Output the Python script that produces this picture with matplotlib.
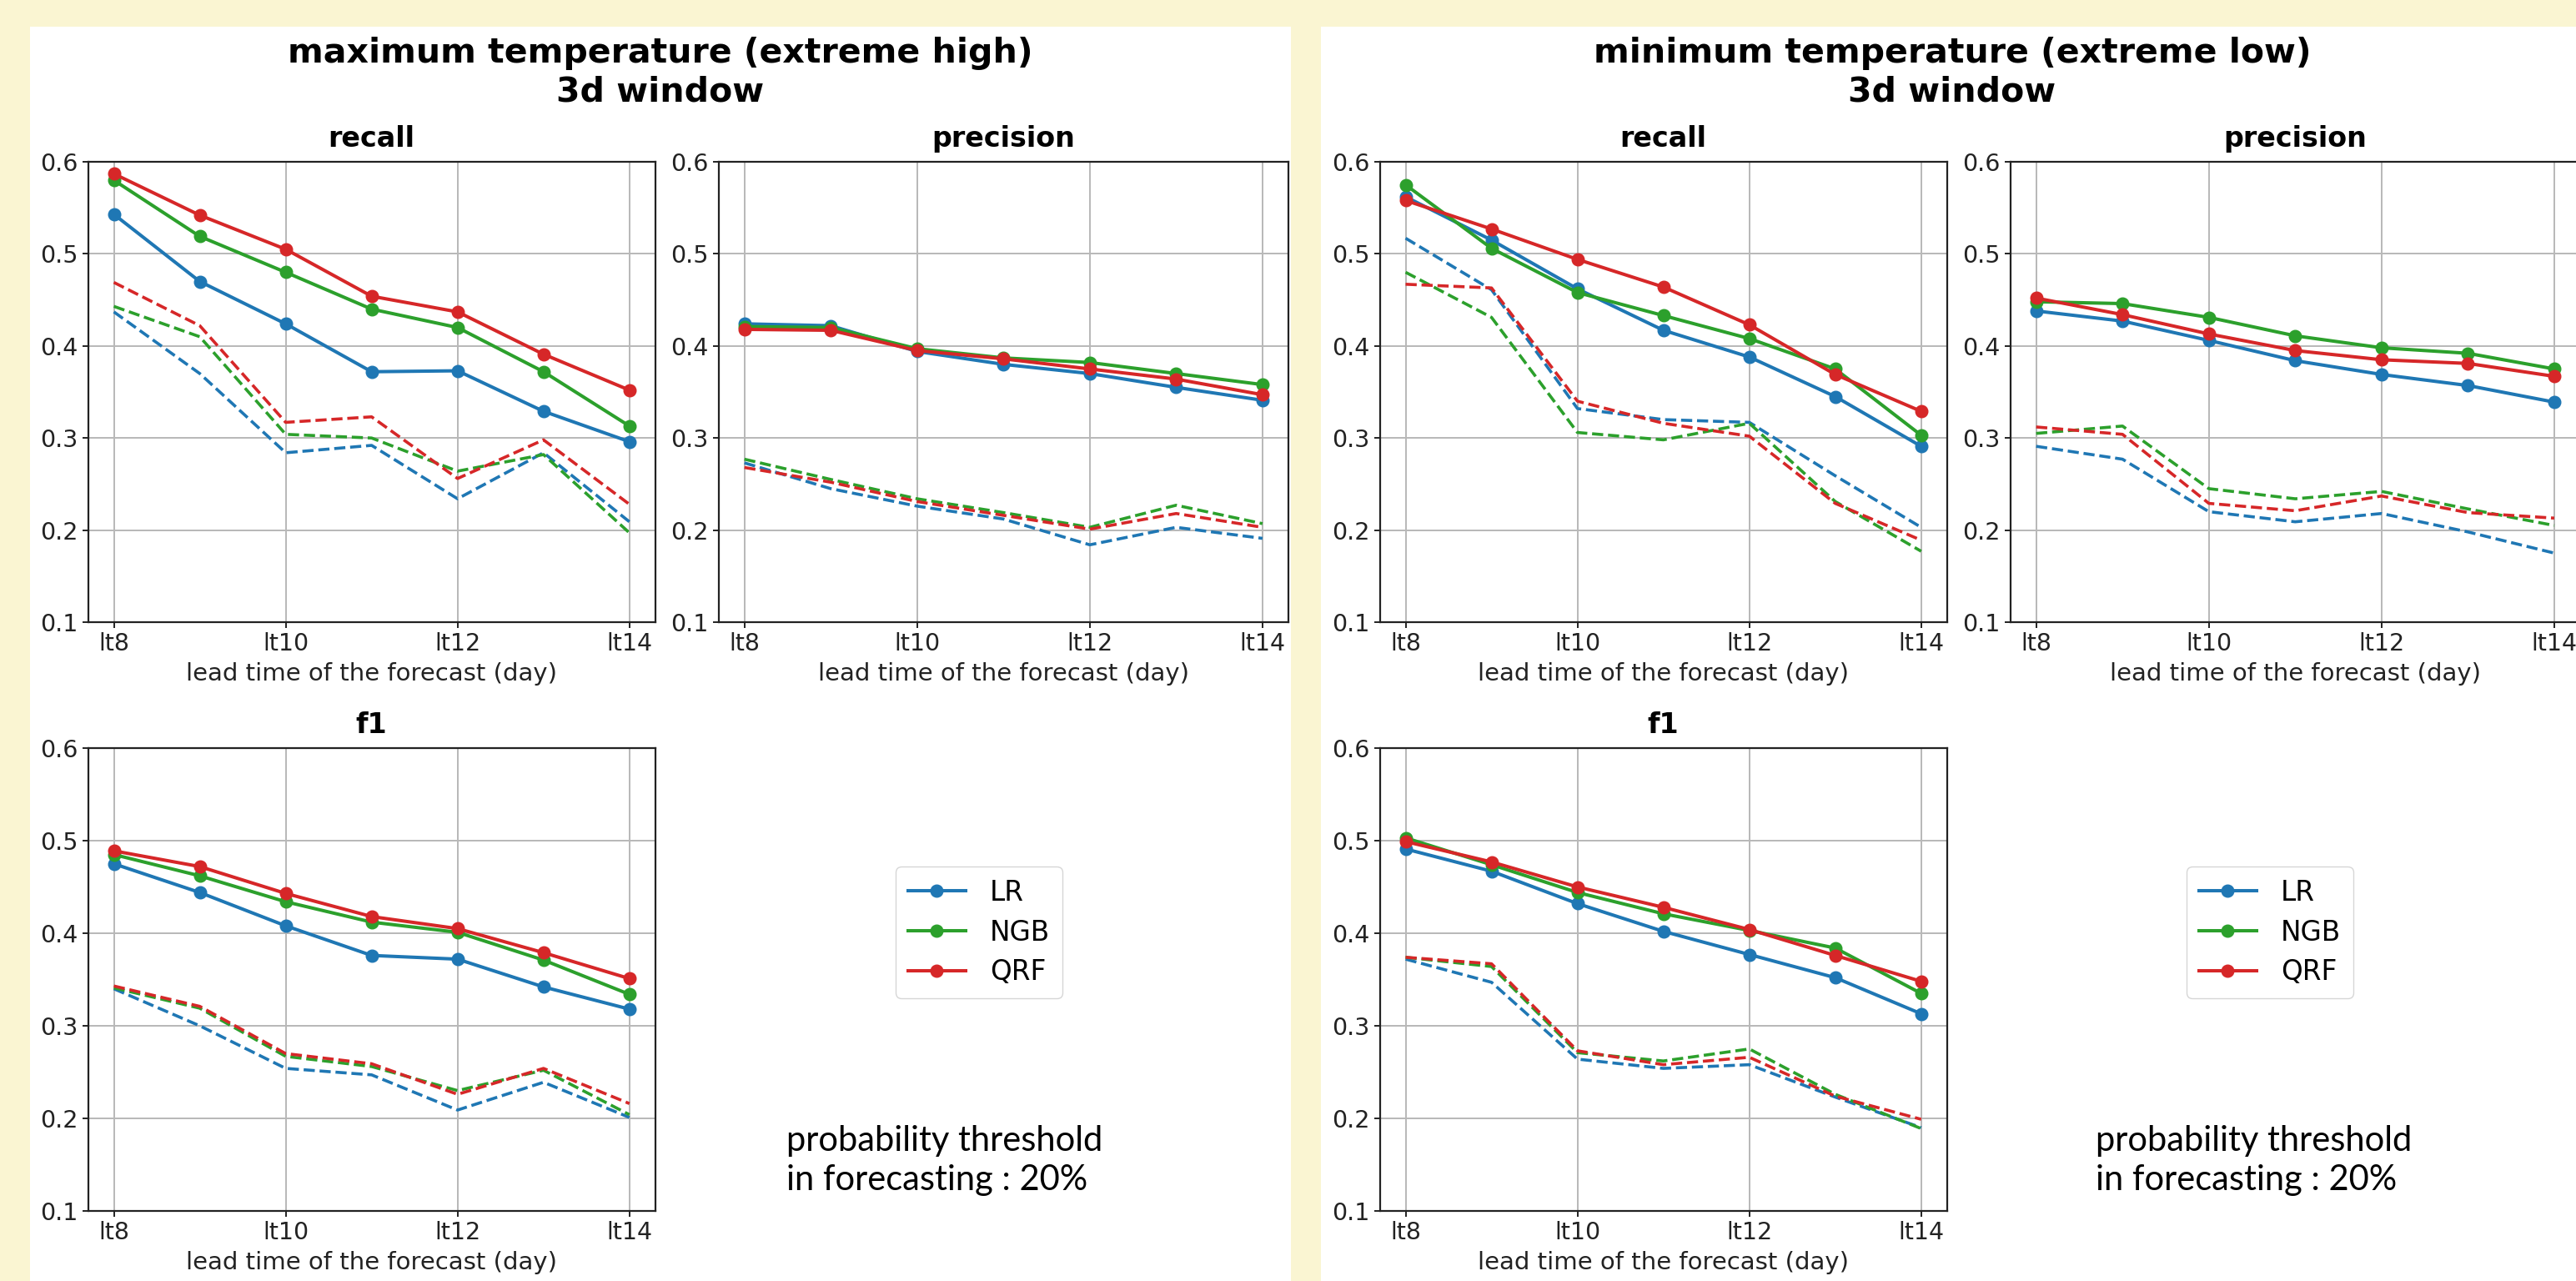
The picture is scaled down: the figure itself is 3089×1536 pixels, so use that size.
import matplotlib
matplotlib.use("Agg")
import matplotlib.pyplot as plt
from matplotlib.patches import Rectangle

# ---------------- data ----------------
lead_days = [8, 9, 10, 11, 12, 13, 14]
tick_days = [8, 10, 12, 14]
tick_labels = ["lt8", "lt10", "lt12", "lt14"]
models = ["LR", "NGB", "QRF"]
model_colors = ["#1f77b4", "#2ca02c", "#d62728"]
metrics = ["recall", "precision", "f1"]

# maximum temperature (extreme high) -- solid lines
tmax_recall_LR = [0.543, 0.470, 0.424, 0.372, 0.373, 0.329, 0.296]
tmax_recall_NGB = [0.580, 0.519, 0.480, 0.440, 0.420, 0.372, 0.313]
tmax_recall_QRF = [0.587, 0.542, 0.505, 0.454, 0.437, 0.391, 0.352]
tmax_precision_LR = [0.424, 0.422, 0.394, 0.380, 0.370, 0.355, 0.341]
tmax_precision_NGB = [0.421, 0.420, 0.397, 0.387, 0.382, 0.370, 0.358]
tmax_precision_QRF = [0.418, 0.417, 0.395, 0.386, 0.375, 0.364, 0.347]
tmax_f1_LR = [0.475, 0.444, 0.408, 0.376, 0.372, 0.342, 0.318]
tmax_f1_NGB = [0.485, 0.462, 0.434, 0.412, 0.401, 0.371, 0.334]
tmax_f1_QRF = [0.489, 0.472, 0.443, 0.418, 0.405, 0.379, 0.351]
# maximum temperature (extreme high) -- dashed lines
tmax_recall_LR_dash = [0.437, 0.370, 0.284, 0.292, 0.234, 0.284, 0.209]
tmax_recall_NGB_dash = [0.443, 0.410, 0.304, 0.300, 0.264, 0.282, 0.197]
tmax_recall_QRF_dash = [0.469, 0.422, 0.317, 0.323, 0.256, 0.298, 0.228]
tmax_precision_LR_dash = [0.273, 0.245, 0.226, 0.212, 0.184, 0.203, 0.191]
tmax_precision_NGB_dash = [0.277, 0.255, 0.234, 0.219, 0.203, 0.227, 0.207]
tmax_precision_QRF_dash = [0.268, 0.252, 0.231, 0.216, 0.201, 0.218, 0.203]
tmax_f1_LR_dash = [0.340, 0.300, 0.254, 0.247, 0.209, 0.239, 0.201]
tmax_f1_NGB_dash = [0.341, 0.319, 0.267, 0.256, 0.230, 0.252, 0.204]
tmax_f1_QRF_dash = [0.343, 0.321, 0.270, 0.259, 0.226, 0.254, 0.216]

# minimum temperature (extreme low) -- solid lines
tmin_recall_LR = [0.562, 0.515, 0.462, 0.417, 0.388, 0.345, 0.291]
tmin_recall_NGB = [0.575, 0.506, 0.458, 0.433, 0.408, 0.375, 0.303]
tmin_recall_QRF = [0.558, 0.527, 0.494, 0.464, 0.423, 0.369, 0.329]
tmin_precision_LR = [0.438, 0.427, 0.406, 0.384, 0.369, 0.357, 0.339]
tmin_precision_NGB = [0.448, 0.446, 0.431, 0.411, 0.398, 0.392, 0.375]
tmin_precision_QRF = [0.452, 0.434, 0.413, 0.395, 0.385, 0.381, 0.367]
tmin_f1_LR = [0.491, 0.467, 0.432, 0.402, 0.377, 0.352, 0.313]
tmin_f1_NGB = [0.503, 0.474, 0.444, 0.421, 0.403, 0.384, 0.335]
tmin_f1_QRF = [0.499, 0.477, 0.450, 0.428, 0.404, 0.376, 0.348]
# minimum temperature (extreme low) -- dashed lines
tmin_recall_LR_dash = [0.517, 0.461, 0.332, 0.320, 0.317, 0.259, 0.203]
tmin_recall_NGB_dash = [0.480, 0.431, 0.306, 0.298, 0.316, 0.231, 0.177]
tmin_recall_QRF_dash = [0.467, 0.463, 0.340, 0.316, 0.302, 0.229, 0.189]
tmin_precision_LR_dash = [0.291, 0.277, 0.220, 0.209, 0.218, 0.198, 0.175]
tmin_precision_NGB_dash = [0.305, 0.313, 0.245, 0.234, 0.242, 0.223, 0.205]
tmin_precision_QRF_dash = [0.312, 0.304, 0.229, 0.221, 0.237, 0.219, 0.213]
tmin_f1_LR_dash = [0.372, 0.347, 0.264, 0.254, 0.258, 0.223, 0.190]
tmin_f1_NGB_dash = [0.374, 0.364, 0.271, 0.262, 0.275, 0.226, 0.189]
tmin_f1_QRF_dash = [0.374, 0.367, 0.273, 0.258, 0.266, 0.224, 0.199]

panel_titles = ["maximum temperature (extreme high)\n3d window",
                "minimum temperature (extreme low)\n3d window"]
note_text = "probability threshold\nin forecasting : 20%"

tmax_solid = {
    "recall": [tmax_recall_LR, tmax_recall_NGB, tmax_recall_QRF],
    "precision": [tmax_precision_LR, tmax_precision_NGB, tmax_precision_QRF],
    "f1": [tmax_f1_LR, tmax_f1_NGB, tmax_f1_QRF],
}
tmax_dash = {
    "recall": [tmax_recall_LR_dash, tmax_recall_NGB_dash, tmax_recall_QRF_dash],
    "precision": [tmax_precision_LR_dash, tmax_precision_NGB_dash, tmax_precision_QRF_dash],
    "f1": [tmax_f1_LR_dash, tmax_f1_NGB_dash, tmax_f1_QRF_dash],
}
tmin_solid = {
    "recall": [tmin_recall_LR, tmin_recall_NGB, tmin_recall_QRF],
    "precision": [tmin_precision_LR, tmin_precision_NGB, tmin_precision_QRF],
    "f1": [tmin_f1_LR, tmin_f1_NGB, tmin_f1_QRF],
}
tmin_dash = {
    "recall": [tmin_recall_LR_dash, tmin_recall_NGB_dash, tmin_recall_QRF_dash],
    "precision": [tmin_precision_LR_dash, tmin_precision_NGB_dash, tmin_precision_QRF_dash],
    "f1": [tmin_f1_LR_dash, tmin_f1_NGB_dash, tmin_f1_QRF_dash],
}

# ---------------- layout (pixels, top-left origin) ----------------
W, H = 3089, 1536
BG = "#faf5d2"

plt.rcParams["font.family"] = ["DejaVu Sans"]

fig = plt.figure(figsize=(W / 100, H / 100), dpi=100, facecolor=BG)


def rect(l, r, t, b):
    return [l / W, 1 - b / H, (r - l) / W, (b - t) / H]


def fx(x):
    return x / W


def fy(y):
    return 1 - y / H


# white panels
for (l, r) in [(36, 1548), (1584, 3100)]:
    fig.add_artist(Rectangle((fx(l), fy(H + 5)), fx(r - l), (H + 5 - 32) / H,
                             transform=fig.transFigure, facecolor="white",
                             edgecolor="none", zorder=0))

panels = [
    dict(dx=0, solid=tmax_solid, dash=tmax_dash, title=panel_titles[0],
         cx=792, leg=(1174, 1118), note_x=943),
    dict(dx=1549, solid=tmin_solid, dash=tmin_dash, title=panel_titles[1],
         cx=2341, leg=(2722, 1118), note_x=2513),
]

axes_boxes = {
    "recall": (105.6, 785.7, 194, 746),
    "precision": (861.6, 1545, 194, 746),
    "f1": (105.6, 785.7, 897, 1452),
}

for p in panels:
    fig.text(fx(p["cx"]), fy(122), p["title"], ha="center", va="baseline",
             fontsize=29.5, fontweight="bold", linespacing=1.22)
    handles = []
    for m in metrics:
        l, r, t, b = axes_boxes[m]
        ax = fig.add_axes(rect(l + p["dx"], r + p["dx"], t, b))
        ax.set_facecolor("white")
        for i, mod in enumerate(models):
            h, = ax.plot(lead_days, p["solid"][m][i], color=model_colors[i],
                         lw=2.9, marker="o", ms=10.5, label=mod, zorder=3)
            ax.plot(lead_days, p["dash"][m][i], color=model_colors[i],
                    lw=2.6, ls="--", zorder=2)
            if m == "recall":
                handles.append(h)
        ax.set_ylim(0.1, 0.6)
        ax.set_yticks([0.1, 0.2, 0.3, 0.4, 0.5, 0.6])
        ax.set_yticklabels(["0.1", "0.2", "0.3", "0.4", "0.5", "0.6"])
        ax.set_xticks(tick_days)
        ax.set_xticklabels(tick_labels)
        ax.tick_params(labelsize=20.5, width=1.4, length=5, colors="#222222",
                       labelcolor="#222222")
        ax.grid(True, color="#b8b8b8", lw=1.4)
        ax.set_axisbelow(True)
        for s in ax.spines.values():
            s.set_linewidth(1.6)
            s.set_color("#222222")
        ax.set_title(m, fontsize=24, fontweight="bold", pad=13)
        ax.set_xlabel("lead time of the forecast (day)", fontsize=21,
                      color="#222222", labelpad=6)
    lx, ly = p["leg"]
    fig.legend(handles=handles, labels=models, loc="center",
               bbox_to_anchor=(fx(lx), fy(ly)), fontsize=23.5,
               frameon=True, fancybox=True, edgecolor="#cccccc",
               handlelength=2.1, borderpad=0.45, labelspacing=0.45,
               handletextpad=0.9)
    fig.text(fx(p["note_x"]), fy(1427), note_text, ha="left", va="baseline",
             fontsize=30, family=["Lato", "DejaVu Sans"], linespacing=1.3,
             color="black")

fig.savefig("out.png", dpi=100, facecolor=BG)
